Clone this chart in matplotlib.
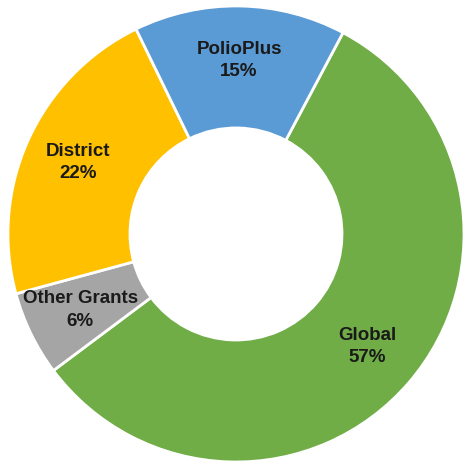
import matplotlib
matplotlib.use('Agg')
import matplotlib.pyplot as plt

plt.rcParams['font.family'] = ['Liberation Sans', 'DejaVu Sans']

# data
names = ['Global', 'Other Grants', 'District', 'PolioPlus']
shares = [57, 6, 22, 15]
colors = ['#70AD47', '#A5A5A5', '#FFC000', '#5B9BD5']

fig = plt.figure(figsize=(4.64, 4.63), dpi=100)
ax = fig.add_axes([0.0172, 0.0022, 0.9828, 0.9849])

labels = [f'{n}\n{s}%' for n, s in zip(names, shares)]
wedges, texts = ax.pie(shares, labels=labels, colors=colors, startangle=62,
                       counterclock=False, radius=1.0, labeldistance=0.76,
                       wedgeprops=dict(width=0.535, edgecolor='white', linewidth=2),
                       textprops=dict(fontsize=13.5, color='#1a1a1a',
                                      fontweight='bold',
                                      ha='center', va='center',
                                      linespacing=1.4))
for t in texts:
   t.set_horizontalalignment('center')

ax.set_xlim(-1, 1)
ax.set_ylim(-1, 1)
ax.set_aspect('equal')
ax.axis('off')

fig.savefig('out.png', dpi=100)
